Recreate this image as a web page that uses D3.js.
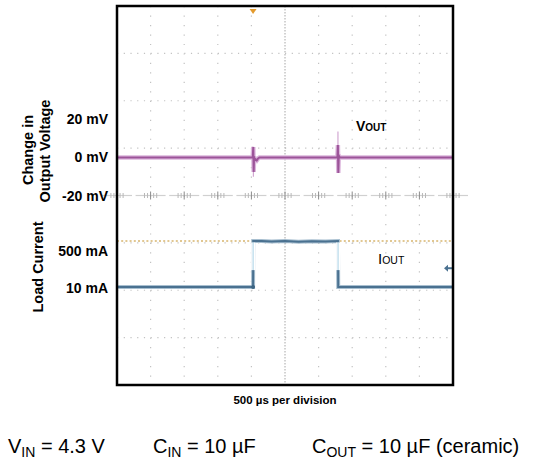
<!DOCTYPE html>
<html>
<head>
<meta charset="utf-8">
<script src="https://cdn.jsdelivr.net/npm/d3@7"></script>
<style>
  html, body { margin: 0; padding: 0; background: #ffffff; }
  svg { display: block; }
  text { font-family: "Liberation Sans", Arial, sans-serif; }
</style>
</head>
<body>
<svg id="chart" width="555" height="468"></svg>
<script>
// ---------------- DATA ----------------
// time in microseconds (500 µs per division, 10 divisions)
const timeTicks = [0, 500, 1000, 1500, 2000, 2500, 3000, 3500, 4000, 4500, 5000];
const voltTickValues = [20, 0, -20];
const voltTickLabels = ["20 mV", "0 mV", "-20 mV"];
const currTickValues = [500, 10];
const currTickLabels = ["500 mA", "10 mA"];

// change in output voltage (mV)
const voutTime = [0, 2020, 2028, 2034, 2040, 2050, 2065, 2080, 2100, 2120, 3280, 3287, 3293, 3300, 3315, 5000];
const voutMv   = [0, 0, 5.5, -7.5, 0.5, -1.5, -1, -1.5, -0.5, 0, 0, 6.5, -8, 1, 0, 0];
// faint overshoot tips of the spikes [time, from mV, to mV]
const voutFaintTime = [2030, 3288];
const voutFaintFrom = [-7.5, 6.5];
const voutFaintTo   = [-10, 13.5];

// load current (mA)
const ioutTime = [0, 2025, 2027, 2150, 2300, 2500, 2700, 2900, 3100, 3288, 3292, 5000];
const ioutMa   = [10, 10, 500, 500, 496, 500, 493, 498, 495, 500, 10, 10];
const edgeTime = [2026, 3290];
const edgeSplitMa = 190;
const refLevelMa = 500;
const markerLevelMa = 210;
const triggerTime = 2025;

// ---------------- LAYOUT ----------------
const svg = d3.select("#chart");
const L = 117, R = 453, T = 6, B = 385;

const x = d3.scaleLinear().domain([0, 5000]).range([L, R]);
const yDiv = d3.scaleLinear().domain([0, 8]).range([T, B]);
const yV = d3.scaleLinear().domain([-20, 20]).range([196, 119]);
const yI = d3.scaleLinear().domain([10, 500]).range([287, 241]);

// grid
const g = svg.append("g");
const hPeriod = (x(500) - x(0)) / 5;
const vPeriod = (yDiv(1) - yDiv(0)) / 5;

timeTicks.slice(1, -1).forEach(t => {
  if (t === 2500) return;
  g.append("line").attr("x1", x(t)).attr("x2", x(t)).attr("y1", T).attr("y2", B)
    .attr("stroke", "#c2c2c2").attr("stroke-width", 1.2)
    .attr("stroke-dasharray", `1.2,${(vPeriod - 1.2).toFixed(3)}`);
});
d3.range(1, 8).forEach(r => {
  if (r === 4) return;
  g.append("line").attr("x1", L).attr("x2", R).attr("y1", yDiv(r)).attr("y2", yDiv(r))
    .attr("stroke", "#c2c2c2").attr("stroke-width", 1.2)
    .attr("stroke-dasharray", `1.2,${(hPeriod - 1.2).toFixed(3)}`);
});
// center vertical
g.append("line").attr("x1", x(2500)).attr("x2", x(2500)).attr("y1", T).attr("y2", B)
  .attr("stroke", "#a6a6a6").attr("stroke-width", 1).attr("stroke-dasharray", "1.5,1.5");
// center horizontal with cross ticks
const cy = yDiv(4);
timeTicks.forEach(t => {
  const cx = x(t);
  g.append("line").attr("x1", cx - 15).attr("x2", cx + 15).attr("y1", cy).attr("y2", cy)
    .attr("stroke", "#d0d0d0").attr("stroke-width", 1.2);
  [-2, -1, 0, 1, 2].forEach(k => {
    const xx = cx + k * hPeriod / 2.2;
    g.append("line").attr("x1", xx).attr("x2", xx)
      .attr("y1", cy - (k === 0 ? 4 : 2.5)).attr("y2", cy + (k === 0 ? 4 : 2.5))
      .attr("stroke", k === 0 ? "#8a8a8a" : "#b8b8b8").attr("stroke-width", 1);
  });
});

// reference dotted orange line (500 mA)
svg.append("line").attr("x1", L).attr("x2", R).attr("y1", yI(refLevelMa)).attr("y2", yI(refLevelMa))
  .attr("stroke", "#d8b56e").attr("stroke-width", 1.5).attr("stroke-dasharray", "2,2.2");

// trigger marker
svg.append("path")
  .attr("d", `M${x(triggerTime) - 3.5},${T + 3} L${x(triggerTime) + 3.5},${T + 3} L${x(triggerTime)},${T + 8} Z`)
  .attr("fill", "#e39a2d");

// VOUT trace
const voutData = voutTime.map((t, i) => [t, voutMv[i]]);
const vLine = d3.line().x(d => x(d[0])).y(d => yV(d[1]));
svg.append("path").datum(voutData).attr("d", vLine).attr("fill", "none")
  .attr("stroke", "#dcb6dc").attr("stroke-width", 4.5);
svg.append("path").datum(voutData).attr("d", vLine).attr("fill", "none")
  .attr("stroke", "#9c5499").attr("stroke-width", 2);
voutFaintTime.forEach((t, i) => {
  svg.append("line").attr("x1", x(t)).attr("x2", x(t))
    .attr("y1", yV(voutFaintFrom[i])).attr("y2", yV(voutFaintTo[i]))
    .attr("stroke", "#d2a8d2").attr("stroke-width", 1.2);
});

// IOUT trace
const ioutData = ioutTime.map((t, i) => [t, ioutMa[i]]);
const iLine = d3.line().x(d => x(d[0])).y(d => yI(d[1]));
svg.append("path").datum(ioutData).attr("d", iLine).attr("fill", "none")
  .attr("stroke", "#a8bfd0").attr("stroke-width", 4);
svg.append("path").datum(ioutData).attr("d", iLine).attr("fill", "none")
  .attr("stroke", "#4a7190").attr("stroke-width", 2);
// light upper part of the edges
edgeTime.forEach(t => {
  svg.append("line").attr("x1", x(t)).attr("x2", x(t))
    .attr("y1", yI(edgeSplitMa)).attr("y2", yI(refLevelMa) + 1.5)
    .attr("stroke", "#ffffff").attr("stroke-width", 4);
  svg.append("line").attr("x1", x(t)).attr("x2", x(t))
    .attr("y1", yI(edgeSplitMa)).attr("y2", yI(refLevelMa) + 1.5)
    .attr("stroke", "#c4e0ee").attr("stroke-width", 1.5);
});
svg.append("circle").attr("cx", x(ioutTime[1])).attr("cy", yI(ioutMa[1])).attr("r", 2)
  .attr("fill", "#3d6482");
// channel marker arrow at right
const my = yI(markerLevelMa);
svg.append("line").attr("x1", R - 6).attr("x2", R - 1).attr("y1", my).attr("y2", my)
  .attr("stroke", "#4a7190").attr("stroke-width", 2);
svg.append("path").attr("d", `M${R - 9},${my} L${R - 5},${my - 3.5} L${R - 5},${my + 3.5} Z`)
  .attr("fill", "#4a7190");

// frame
svg.append("rect").attr("x", L).attr("y", T).attr("width", R - L).attr("height", B - T)
  .attr("fill", "none").attr("stroke", "#000").attr("stroke-width", 2.5);

// voltage axis labels
const axV = svg.append("g").attr("transform", `translate(${L},0)`)
  .call(d3.axisLeft(yV).tickValues(voltTickValues)
    .tickFormat((d, i) => voltTickLabels[i]).tickSize(0).tickPadding(9));
axV.select(".domain").remove();
axV.selectAll("text").attr("font-family", "Liberation Sans, Arial, sans-serif")
  .attr("font-size", 14).attr("font-weight", "bold").attr("fill", "#000");

// current axis labels
const axI = svg.append("g").attr("transform", `translate(${L},0)`)
  .call(d3.axisLeft(yI).tickValues(currTickValues)
    .tickFormat((d, i) => currTickLabels[i]).tickSize(0).tickPadding(9));
axI.select(".domain").remove();
axI.selectAll("text").attr("font-family", "Liberation Sans, Arial, sans-serif")
  .attr("font-size", 14).attr("font-weight", "bold").attr("fill", "#000")
  .attr("dy", (d) => d === 500 ? "1.0em" : "0.4em");

// axis titles
function vtitle(txt, xx, yy) {
  svg.append("text").attr("transform", `translate(${xx},${yy}) rotate(-90)`)
    .attr("text-anchor", "middle").attr("font-size", 14.5).attr("font-weight", "bold")
    .text(txt);
}
vtitle("Change in", 33, 150);
vtitle("Output Voltage", 50, 151);
vtitle("Load Current", 43, 267);

// trace annotations
const va = svg.append("text").attr("x", 356).attr("y", 131).attr("font-weight", "bold");
va.append("tspan").attr("font-size", 14).text("V");
va.append("tspan").attr("font-size", 10).text("OUT");
const ia = svg.append("text").attr("x", 378).attr("y", 264);
ia.append("tspan").attr("font-size", 15).text("I");
ia.append("tspan").attr("font-size", 10.5).text("OUT");

// x axis caption
svg.append("text").attr("x", x(2500)).attr("y", 404).attr("text-anchor", "middle")
  .attr("font-size", 11.5).attr("font-weight", "bold").text("500 µs per division");

// bottom conditions
function cond(xx, main, sub, rest) {
  const t = svg.append("text").attr("x", xx).attr("y", 453).attr("font-size", 20);
  t.append("tspan").text(main);
  t.append("tspan").attr("font-size", 14).attr("dy", 4).text(sub);
  t.append("tspan").attr("dy", -4).text(rest);
}
cond(8, "V", "IN", " = 4.3 V");
cond(153, "C", "IN", " = 10 µF");
cond(312, "C", "OUT", " = 10 µF (ceramic)");
</script>
</body>
</html>
